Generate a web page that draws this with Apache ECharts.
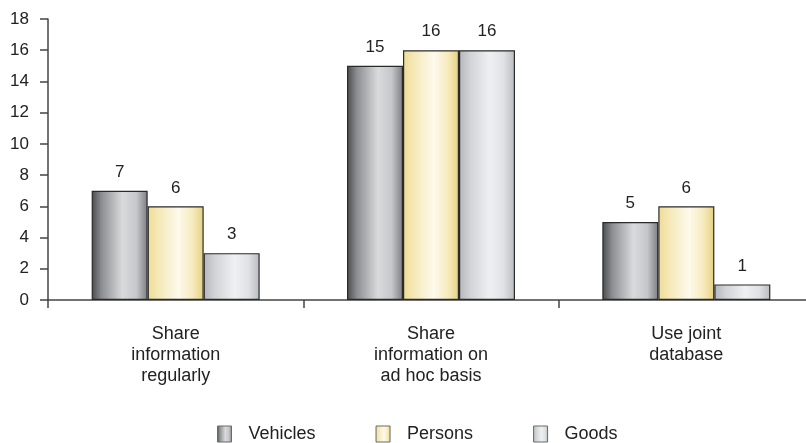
<!DOCTYPE html>
<html>
<head>
<meta charset="utf-8">
<script src="https://cdn.jsdelivr.net/npm/echarts@6/dist/echarts.min.js"></script>
<style>
html,body{margin:0;padding:0;background:#fff;overflow:hidden;width:806px;height:443px;}
#chart{width:820px;height:443px;}
</style>
</head>
<body>
<div id="chart"></div>
<script>
var categories = ['Share\ninformation\nregularly', 'Share\ninformation on\nad hoc basis', 'Use joint\ndatabase'];
var seriesNames = ['Vehicles', 'Persons', 'Goods'];
var vehicles = [7, 15, 5];
var persons = [6, 16, 6];
var goods = [3, 16, 1];
var yTicks = [0, 2, 4, 6, 8, 10, 12, 14, 16, 18];

function grad(stops) {
  return new echarts.graphic.LinearGradient(0, 0, 1, 0, stops.map(function (s) { return { offset: s[0], color: s[1] }; }));
}
var fills = [
  grad([[0, '#4b4b4e'], [0.18, '#8e8f92'], [0.55, '#d9dadc'], [0.8, '#c6c7ca'], [1, '#7c7d80']]),
  grad([[0, '#eedb94'], [0.2, '#f5e9b8'], [0.55, '#fdf9ec'], [0.8, '#f6ebbe'], [1, '#e6d17f']]),
  grad([[0, '#b4b6bb'], [0.2, '#d2d3d7'], [0.55, '#eff0f2'], [0.8, '#e0e1e4'], [1, '#b9bbc0']])
];
var font = 'Liberation Sans, Arial, Helvetica, sans-serif';
var data = [vehicles, persons, goods];

var chart = echarts.init(document.getElementById('chart'));
chart.setOption({
  animation: false,
  textStyle: { fontFamily: font },
  grid: { left: 48, width: 766, top: 19, height: 281, containLabel: false },
  legend: {
    left: 212, top: 420,
    itemWidth: 14, itemHeight: 16, itemGap: 60,
    icon: 'rect',
    data: seriesNames,
    itemStyle: { borderColor: '#6a6a6a', borderWidth: 1 },
    textStyle: { fontSize: 18, color: '#222', padding: [0, 0, 0, 12], fontFamily: font },
    selectedMode: false
  },
  xAxis: {
    type: 'category',
    data: categories,
    axisLine: { lineStyle: { color: '#444', width: 1.5 } },
    axisTick: { show: true, length: 8, lineStyle: { color: '#444', width: 1.5 } },
    axisLabel: { margin: 24, fontSize: 18, lineHeight: 21, color: '#222', fontFamily: font, align: 'center' }
  },
  yAxis: {
    type: 'value',
    min: 0, max: 18, interval: 2,
    axisLine: { show: true, lineStyle: { color: '#444', width: 1.5 } },
    axisTick: { show: true, length: 8, lineStyle: { color: '#444', width: 1.5 } },
    splitLine: { show: false },
    axisLabel: {
      margin: 19, fontSize: 17, color: '#222', fontFamily: font,
      formatter: function (v) { return yTicks.indexOf(v) >= 0 ? String(v) : ''; }
    }
  },
  series: seriesNames.map(function (name, i) {
    return {
      name: name,
      type: 'bar',
      data: data[i],
      barWidth: 56,
      barGap: '0%',
      itemStyle: { color: fills[i], borderColor: '#2a2a2a', borderWidth: 1.2 },
      label: { show: true, position: 'top', distance: 10, fontSize: 17, color: '#222', fontFamily: font }
    };
  })
});
</script>
</body>
</html>
